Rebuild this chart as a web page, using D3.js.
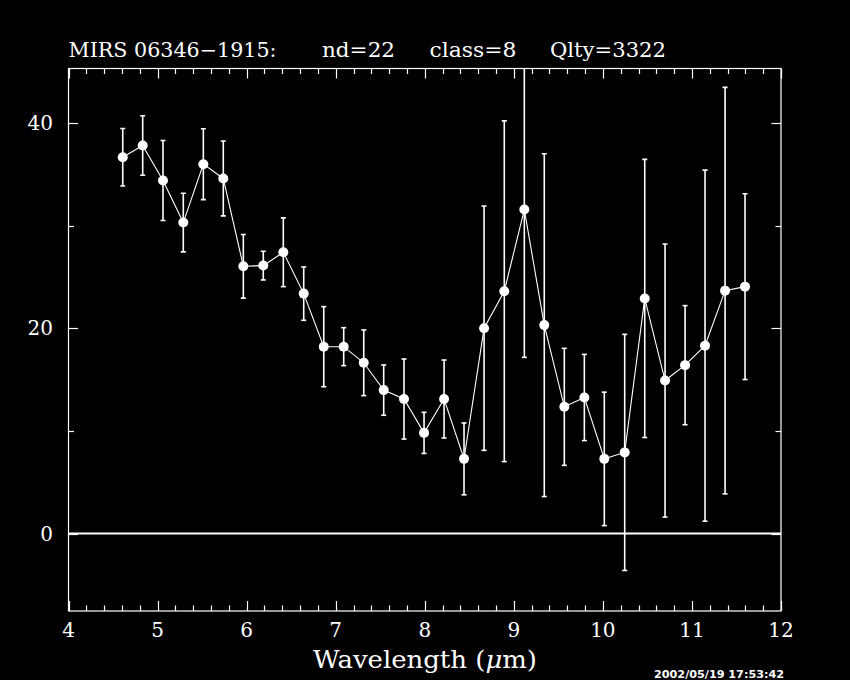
<!DOCTYPE html>
<html>
<head>
<meta charset="utf-8">
<script src="https://cdn.jsdelivr.net/npm/d3@7"></script>
<style>
  html, body { margin: 0; padding: 0; background: #000; }
  svg { display: block; }
</style>
</head>
<body>
<script>
// ---- data ----
const wavelength = [4.609, 4.833, 5.061, 5.289, 5.514, 5.738, 5.963, 6.187, 6.412, 6.641,
                    6.866, 7.090, 7.315, 7.539, 7.767, 7.992, 8.217, 8.441, 8.666, 8.893,
                    9.118, 9.342, 9.567, 9.792, 10.016, 10.245, 10.470, 10.698, 10.923, 11.147,
                    11.372, 11.596];
const flux = [36.66, 37.8, 34.39, 30.29, 35.98, 34.59, 26.03, 26.1, 27.4, 23.37,
              18.2, 18.2, 16.63, 13.97, 13.1, 9.8, 13.1, 7.27, 20.0, 23.6,
              31.56, 20.3, 12.34, 13.25, 7.27, 7.9, 22.9, 14.9, 16.4, 18.3,
              23.66, 24.05];
const fluxErr = [2.8, 2.9, 3.9, 2.85, 3.45, 3.65, 3.1, 1.4, 3.35, 2.6,
                 3.9, 1.85, 3.2, 2.45, 3.9, 2.0, 3.8, 3.5, 11.9, 16.6,
                 14.4, 16.7, 5.7, 4.2, 6.5, 11.5, 13.55, 13.3, 5.8, 17.1,
                 19.8, 9.05];
const xTickLabels = [4, 5, 6, 7, 8, 9, 10, 11, 12];
const yTickLabels = [0, 20, 40];
const xMinorTicks = d3.range(40, 121, 2).map(v => v / 10);
const yMinorTicks = [0, 10, 20, 30, 40];
const titleParts = ["MIRS 06346\u22121915:", "nd=22", "class=8", "Qlty=3322"];
const timestamp = "2002/05/19 17:53:42";

// ---- layout ----
const W = 850, H = 680;
const L = 68.5, R = 781, T = 68.5, B = 611;
const x = d3.scaleLinear().domain([4, 12]).range([L, R]);
const y = d3.scaleLinear().domain([-7.55, 45.3]).range([B, T]);

const svg = d3.select("body").append("svg")
  .attr("width", W).attr("height", H)
  .style("background", "#000");

svg.append("rect").attr("width", W).attr("height", H).attr("fill", "#000");

const serif = "'DejaVu Serif', 'Liberation Serif', serif";

// clip
svg.append("clipPath").attr("id", "plotclip")
  .append("rect").attr("x", L).attr("y", T).attr("width", R - L).attr("height", B - T);

// frame
svg.append("rect")
  .attr("x", L).attr("y", T).attr("width", R - L).attr("height", B - T)
  .attr("fill", "none").attr("stroke", "#fff").attr("stroke-width", 1.2);

// x ticks (top & bottom, inward)
const gx = svg.append("g").attr("stroke", "#fff").attr("stroke-width", 1.2);
xMinorTicks.forEach(v => {
  const major = Math.abs(v - Math.round(v)) < 1e-6;
  const len = major ? 10 : 5.5;
  const px = Math.round(x(v)) + 0.5;
  gx.append("line").attr("x1", px).attr("x2", px).attr("y1", B).attr("y2", B - len);
  gx.append("line").attr("x1", px).attr("x2", px).attr("y1", T).attr("y2", T + len);
});
// y ticks (left & right, inward)
yMinorTicks.forEach(v => {
  const major = v % 20 === 0;
  const len = major ? 9.5 : 5.5;
  const py = Math.round(y(v)) + 0.5;
  gx.append("line").attr("x1", L).attr("x2", L + len).attr("y1", py).attr("y2", py);
  gx.append("line").attr("x1", R).attr("x2", R - len).attr("y1", py).attr("y2", py);
});

// tick labels
svg.append("g").selectAll("text").data(xTickLabels).join("text")
  .attr("x", d => x(d)).attr("y", 637)
  .attr("text-anchor", "middle")
  .attr("fill", "#fff").attr("font-family", serif).attr("font-size", 20)
  .text(d => d);
svg.append("g").selectAll("text").data(yTickLabels).join("text")
  .attr("x", 53).attr("y", d => y(d) + 7)
  .attr("text-anchor", "end")
  .attr("fill", "#fff").attr("font-family", serif).attr("font-size", 20)
  .text(d => d);

// zero line
svg.append("line")
  .attr("x1", L).attr("x2", R).attr("y1", y(0)).attr("y2", y(0))
  .attr("stroke", "#fff").attr("stroke-width", 2);

// data
const pts = wavelength.map((w, i) => ({ w, f: flux[i], e: fluxErr[i] }));
const plot = svg.append("g").attr("clip-path", "url(#plotclip)");

// error bars
const eb = plot.append("g").attr("stroke", "#fff").attr("stroke-width", 1.6);
pts.forEach(p => {
  const px = x(p.w);
  eb.append("line").attr("x1", px).attr("x2", px).attr("y1", y(p.f - p.e)).attr("y2", y(p.f + p.e));
  eb.append("line").attr("x1", px - 2.5).attr("x2", px + 2.5).attr("y1", y(p.f + p.e)).attr("y2", y(p.f + p.e));
  eb.append("line").attr("x1", px - 2.5).attr("x2", px + 2.5).attr("y1", y(p.f - p.e)).attr("y2", y(p.f - p.e));
});

// connecting line
plot.append("path")
  .attr("d", d3.line().x(d => x(d.w)).y(d => y(d.f))(pts))
  .attr("fill", "none").attr("stroke", "#fff").attr("stroke-width", 1.1);

// markers
plot.append("g").selectAll("circle").data(pts).join("circle")
  .attr("cx", d => x(d.w)).attr("cy", d => y(d.f)).attr("r", 5)
  .attr("fill", "#fff");

// title
const titleX = [68.5, 322, 429.5, 550];
const titleLen = [208, 73, 87, 116];
svg.append("g").selectAll("text").data(titleParts).join("text")
  .attr("x", (d, i) => titleX[i]).attr("y", 57)
  .attr("textLength", (d, i) => titleLen[i]).attr("lengthAdjust", "spacingAndGlyphs")
  .attr("fill", "#fff").attr("font-family", serif).attr("font-size", 20)
  .text(d => d);

// x axis label
const xl = svg.append("text")
  .attr("x", 313).attr("y", 668)
  .attr("textLength", 224).attr("lengthAdjust", "spacingAndGlyphs")
  .attr("fill", "#fff").attr("font-family", serif).attr("font-size", 24);
xl.append("tspan").text("Wavelength (");
xl.append("tspan").attr("font-style", "italic").text("\u03bc");
xl.append("tspan").text("m)");

// timestamp (kept fully inside the picture)
svg.append("text")
  .attr("x", 654).attr("y", 678)
  .attr("textLength", 130).attr("lengthAdjust", "spacingAndGlyphs")
  .attr("fill", "#fff").attr("font-family", "'DejaVu Sans', sans-serif")
  .attr("font-weight", "bold").attr("font-size", 10)
  .text(timestamp);
</script>
</body>
</html>
